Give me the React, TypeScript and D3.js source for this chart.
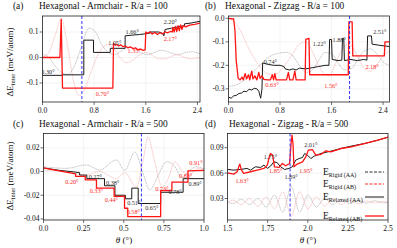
import React from "react";
import * as d3 from "d3";

type Pt = [number, number];
type Lab = [string, number, number, string];

// ---------- Panel (a): Hexagonal - Armchair - R/a = 100 ----------
const aRigidAA: Pt[] = [[0,0.012],[0.1,0.0],[0.2,-0.035],[0.3,-0.06],[0.4,-0.066],[0.5,-0.03],[0.6,0.04],[0.72,0.115],[0.82,0.1],[0.92,0.05],[1.02,0.02],[1.12,0.012],[1.22,0.025],[1.32,0.04],[1.42,0.035],[1.52,0.02],[1.62,0.012],[1.72,0.018],[1.82,0.028],[1.92,0.025],[2.02,0.015],[2.12,0.012],[2.22,0.02],[2.32,0.022],[2.44,0.015]];
const aRigidAB: Pt[] = [[0,0.0],[0.1,0.02],[0.2,0.09],[0.29,0.15],[0.38,0.06],[0.47,-0.08],[0.57,-0.15],[0.66,-0.12],[0.76,-0.05],[0.88,0.02],[1.0,0.05],[1.1,0.035],[1.2,0.0],[1.3,-0.02],[1.4,-0.01],[1.5,0.01],[1.6,0.02],[1.7,0.01],[1.8,-0.005],[1.9,-0.005],[2.0,0.005],[2.1,0.01],[2.2,0.0],[2.3,-0.005],[2.44,0.0]];
const aRelaxedAA: Pt[] = [[0,-0.07],[0.3,-0.07],[0.3,-0.068],[0.64,-0.068],[0.64,0.068],[0.79,0.068],[0.79,0.02],[1.05,0.02],[1.05,0.036],[1.28,0.036],[1.28,0.085],[1.4,0.088],[1.5,0.09],[1.6,0.093],[1.66,0.095],[1.66,0.1],[1.8,0.1],[1.86,0.095],[1.88,0.085],[1.9,0.11],[2.0,0.115],[2.1,0.12],[2.2,0.125],[2.2,0.132],[2.3,0.135],[2.44,0.142]];
const aRelaxedAB: Pt[] = [[0,0],[0.27,0],[0.29,0.15],[0.31,-0.12],[0.6,-0.12],[0.8,-0.12],[1.09,-0.12],[1.1,0.055],[1.13,0.048],[1.15,0.052],[1.18,0.045],[1.21,0.05],[1.25,0.042],[1.28,0.046],[1.32,0.038],[1.36,0.042],[1.4,0.035],[1.44,0.038],[1.48,0.03],[1.52,0.033],[1.56,0.028],[1.59,0.03],[1.6,0.1],[1.63,0.095],[1.66,0.1],[1.7,0.092],[1.74,0.098],[1.78,0.09],[1.82,0.097],[1.86,0.092],[1.9,0.1],[1.94,0.097],[1.98,0.102],[2.01,0.1],[2.02,0.118],[2.04,0.1],[2.06,0.122],[2.08,0.102],[2.1,0.125],[2.12,0.105],[2.14,0.128],[2.16,0.11],[2.18,0.125],[2.22,0.12],[2.26,0.125],[2.3,0.128],[2.36,0.13],[2.44,0.135]];
const aLabels: Lab[] = [["0.30°",0.085,-0.053,"AA"],["0.70°",0.93,-0.143,"AB"],["1.05°",1.12,0.057,"AA"],["1.35°",1.42,0.029,"AB"],["1.66°",1.39,0.1,"AA"],["2.17°",1.98,0.076,"AB"],["2.20°",1.98,0.143,"AA"]];
const aXTicks = [0, 0.8, 1.6, 2.4];
const aXTickLabels = ["0.0", "0.8", "1.6", "2.4"];
const aYTicks = [-0.1, 0, 0.1];
const aYTickLabels = ["-0.1", "0.0", "0.1"];

// ---------- Panel (b): Hexagonal - Zigzag - R/a = 100 ----------
const bRigidAA: Pt[] = [[0,-0.29],[0.15,-0.28],[0.3,-0.25],[0.45,-0.21],[0.6,-0.17],[0.75,-0.15],[0.9,-0.145],[1.0,-0.16],[1.1,-0.2],[1.2,-0.23],[1.3,-0.22],[1.4,-0.18],[1.5,-0.145],[1.6,-0.15],[1.7,-0.19],[1.8,-0.22],[1.9,-0.215],[2.0,-0.18],[2.1,-0.14],[2.2,-0.13],[2.3,-0.15],[2.4,-0.185],[2.5,-0.2]];
const bRigidAB: Pt[] = [[0,0],[0.1,-0.02],[0.2,-0.06],[0.3,-0.12],[0.4,-0.17],[0.5,-0.21],[0.6,-0.235],[0.7,-0.24],[0.8,-0.225],[0.9,-0.19],[1.0,-0.15],[1.1,-0.11],[1.2,-0.1],[1.3,-0.14],[1.4,-0.2],[1.5,-0.24],[1.57,-0.245],[1.65,-0.2],[1.75,-0.14],[1.85,-0.11],[1.92,-0.12],[2.0,-0.16],[2.1,-0.21],[2.2,-0.225],[2.3,-0.2],[2.4,-0.16],[2.5,-0.14]];
const bRelaxedAA: Pt[] = [[0,-0.335],[0.04,-0.34],[0.08,-0.33],[0.12,-0.328],[0.16,-0.32],[0.2,-0.318],[0.24,-0.31],[0.28,-0.312],[0.32,-0.302],[0.36,-0.305],[0.4,-0.298],[0.44,-0.3],[0.47,-0.31],[0.5,-0.34],[0.52,-0.3],[0.53,-0.19],[0.6,-0.195],[0.7,-0.2],[0.8,-0.2],[0.86,-0.205],[0.88,-0.215],[0.95,-0.22],[1.0,-0.215],[1.05,-0.22],[1.1,-0.212],[1.2,-0.215],[1.3,-0.21],[1.4,-0.205],[1.5,-0.2],[1.56,-0.2],[1.57,-0.09],[1.6,-0.09],[1.61,-0.175],[1.7,-0.18],[1.76,-0.178],[1.77,-0.085],[1.79,-0.085],[1.8,-0.18],[1.9,-0.175],[2.0,-0.18],[2.1,-0.175],[2.15,-0.178],[2.16,-0.075],[2.22,-0.075],[2.23,-0.11],[2.35,-0.115],[2.5,-0.12]];
const bRelaxedAB: Pt[] = [[0,0],[0.08,-0.003],[0.1,-0.05],[0.12,-0.18],[0.15,-0.255],[0.18,-0.262],[0.21,-0.25],[0.23,-0.262],[0.26,-0.235],[0.28,-0.258],[0.31,-0.24],[0.33,-0.262],[0.36,-0.225],[0.38,-0.258],[0.41,-0.245],[0.44,-0.262],[0.47,-0.23],[0.49,-0.255],[0.52,-0.245],[0.55,-0.26],[0.6,-0.262],[0.65,-0.262],[0.68,-0.24],[0.7,-0.262],[0.72,-0.235],[0.74,-0.262],[0.8,-0.262],[0.9,-0.262],[0.93,-0.23],[0.95,-0.262],[1.0,-0.262],[1.03,-0.225],[1.05,-0.262],[1.1,-0.262],[1.19,-0.262],[1.2,-0.09],[1.25,-0.085],[1.26,-0.24],[1.4,-0.24],[1.6,-0.24],[1.86,-0.24],[1.87,-0.015],[1.92,-0.015],[1.93,-0.16],[2.1,-0.16],[2.3,-0.16],[2.42,-0.16],[2.43,-0.1],[2.5,-0.1]];
const bLabels: Lab[] = [["0.74°",0.65,-0.182,"AA"],["0.63°",0.675,-0.281,"AB"],["1.22°",1.41,-0.106,"AA"],["1.88°",1.72,-0.089,"AA"],["1.56°",1.59,-0.284,"AB"],["2.18°",2.23,-0.203,"AB"],["2.51°",2.35,-0.057,"AA"]];
const bXTicks = [0, 0.8, 1.6, 2.4];
const bXTickLabels = ["0.0", "0.8", "1.6", "2.4"];
const bYTicks = [0, -0.1, -0.2, -0.3];
const bYTickLabels = ["0.0", "-0.1", "-0.2", "-0.3"];

// ---------- Panel (c): Hexagonal - Armchair - R/a = 500 ----------
const cRigidAA: Pt[] = [[0,0.004],[0.14,0.0027],[0.267,0.0055],[0.35,0.0013],[0.454,0.0097],[0.506,0.001],[0.569,0.0165],[0.621,-0.002],[0.663,-0.0156],[0.715,-0.003],[0.767,0.0083],[0.819,0.004],[0.86,-0.005],[0.9125,0.0013],[0.954,0.004],[1.0,0.002]];
const cRigidAB: Pt[] = [[0,0.0013],[0.142,0],[0.267,-0.003],[0.35,0],[0.454,-0.006],[0.506,-0.001],[0.579,-0.013],[0.621,0.0097],[0.652,0.029],[0.69,0.0097],[0.74,-0.013],[0.777,-0.006],[0.819,0.0083],[0.86,0.001],[0.9125,-0.003],[0.954,0.0027],[1.0,0.002]];
const cRelaxedAA: Pt[] = [[0,0.003],[0.1,0.001],[0.2,-0.0005],[0.225,-0.001],[0.225,-0.003],[0.27,-0.003],[0.27,-0.006],[0.38,-0.006],[0.38,-0.012],[0.445,-0.012],[0.445,-0.02],[0.51,-0.02],[0.51,-0.023],[0.55,-0.023],[0.55,-0.014],[0.59,-0.014],[0.59,-0.027],[0.73,-0.027],[0.73,-0.0175],[0.87,-0.0175],[0.87,-0.006],[1.0,-0.006]];
const cRelaxedAB: Pt[] = [[0,0.003],[0.08,0.001],[0.14,-0.0005],[0.2,-0.002],[0.2,-0.004],[0.26,-0.004],[0.26,-0.007],[0.33,-0.007],[0.33,-0.014],[0.44,-0.014],[0.44,-0.021],[0.505,-0.021],[0.505,-0.031],[0.525,-0.031],[0.525,-0.038],[0.73,-0.038],[0.73,-0.016],[0.8,-0.016],[0.8,-0.009],[0.9,-0.009],[0.9,0.0005],[1.0,0.001]];
const cLabels: Lab[] = [["0.20°",0.177,-0.008,"AB"],["0.27°",0.323,-0.0038,"AA"],["0.33°",0.329,-0.0162,"AB"],["0.38°",0.431,-0.0094,"AA"],["0.44°",0.423,-0.0235,"AB"],["0.51°",0.5625,-0.026,"AA"],["0.58°",0.56,-0.034,"AB"],["0.65°",0.675,-0.0305,"AA"],["0.73°",0.7375,-0.0142,"AB"],["0.78°",0.82,-0.017,"AA"],["0.83°",0.886,-0.0036,"AB"],["0.89°",0.945,-0.0098,"AA"],["0.91°",0.95,0.0074,"AB"]];
const cXTicks = [0, 0.25, 0.5, 0.75, 1.0];
const cXTickLabels = ["0.0", "0.25", "0.5", "0.75", "1.0"];
const cYTicks = [0.02, 0, -0.02, -0.04];
const cYTickLabels = ["0.02", "0.0", "-0.02", "-0.04"];

// ---------- Panel (d): Hexagonal - Zigzag - R/a = 500 ----------
const dRigidAA: Pt[] = [[1.5,0.026],[1.533,0.024],[1.585,0.029],[1.637,0.023],[1.689,0.03],[1.741,0.02],[1.793,0.034],[1.845,0.014],[1.897,0.044],[1.949,0.014],[2.001,0.034],[2.053,0.02],[2.105,0.03],[2.157,0.023],[2.209,0.029],[2.261,0.024],[2.313,0.028],[2.365,0.0245],[2.417,0.0275],[2.469,0.025],[2.5,0.026]];
const dRigidAB: Pt[] = [[1.5,0.025],[1.533,0.028],[1.585,0.023],[1.637,0.03],[1.689,0.021],[1.741,0.032],[1.793,0.018],[1.845,0.038],[1.897,0.009],[1.949,0.038],[2.001,0.018],[2.053,0.032],[2.105,0.021],[2.157,0.03],[2.209,0.023],[2.261,0.028],[2.313,0.024],[2.365,0.027],[2.417,0.025],[2.469,0.0265],[2.5,0.025]];
const dRelaxedAA: Pt[] = [[1.5,0.0643],[1.539,0.0635],[1.58,0.0643],[1.622,0.0655],[1.643,0.0635],[1.674,0.0674],[1.706,0.0667],[1.727,0.0694],[1.748,0.0655],[1.768,0.0682],[1.789,0.0733],[1.81,0.0722],[1.831,0.0674],[1.856,0.0643],[1.883,0.0655],[1.904,0.0674],[1.925,0.0753],[1.946,0.0772],[1.967,0.0784],[1.981,0.0831],[1.998,0.0812],[2.019,0.0772],[2.04,0.08],[2.082,0.0831],[2.144,0.0859],[2.207,0.089],[2.27,0.0918],[2.353,0.0949],[2.437,0.0988],[2.52,0.1035]];
const dRelaxedAB: Pt[] = [[1.5,0.0604],[1.539,0.0588],[1.56,0.0616],[1.57,0.0674],[1.577,0.0706],[1.587,0.0635],[1.601,0.0596],[1.643,0.0616],[1.685,0.0635],[1.727,0.0655],[1.748,0.0694],[1.758,0.0772],[1.768,0.0831],[1.781,0.0812],[1.793,0.0674],[1.821,0.0667],[1.842,0.0714],[1.862,0.0686],[1.887,0.0714],[1.896,0.0949],[1.902,0.1047],[1.908,0.0949],[1.914,0.0674],[1.935,0.0706],[1.967,0.0733],[1.988,0.0792],[2.004,0.0871],[2.029,0.0878],[2.05,0.0812],[2.082,0.082],[2.113,0.0863],[2.144,0.0851],[2.207,0.089],[2.27,0.091],[2.353,0.0949],[2.437,0.0988],[2.52,0.1035]];
const dLabels: Lab[] = [["1.75°",1.768,0.08,"AA"],["2.01°",2.019,0.0941,"AA"],["1.89°",1.896,0.0565,"AA"],["1.63°",1.591,0.051,"AB"],["1.85°",1.8,0.0627,"AB"],["1.95°",1.988,0.0627,"AB"]];
const dXTicks = [1.5, 1.75, 2.0, 2.25, 2.5];
const dXTickLabels = ["1.5", "1.75", "2.0", "2.25", "2.5"];
const dYTicks = [0.03, 0.06, 0.09];
const dYTickLabels = ["0.03", "0.06", "0.09"];

// Angles of the blue dashed markers
const blueMarks = [0.61, 1.88, 0.61, 1.89];
const panelTags = ["(a)", "(b)", "(c)", "(d)"];
const panelTitles = [
  "Hexagonal - Armchair - R/a = 100",
  "Hexagonal - Zigzag - R/a = 100",
  "Hexagonal - Armchair - R/a = 500",
  "Hexagonal - Zigzag - R/a = 500",
];
const legendSubs = ["Rigid (AA)", "Rigid (AB)", "Relaxed (AA)", "Relaxed (AB)"];

const FONT = "Liberation Serif, Times New Roman, serif";
const C_AA = "#1a1a1a";
const C_AB = "#ff1414";
const C_RAA = "#9a9a9a";
const C_RAB = "#f29a9a";
const C_BLUE = "#3535ff";

interface Cfg {
  id: string;
  tag: string;
  title: string;
  box: [number, number, number, number];
  xDomain: [number, number];
  yDomain: [number, number];
  xTicks: number[];
  xTickLabels: string[];
  yTicks: number[];
  yTickLabels: string[];
  blue: number;
  rigidAA: Pt[];
  rigidAB: Pt[];
  relaxedAA: Pt[];
  relaxedAB: Pt[];
  labels: Lab[];
  tagX: number;
  titleX: number;
}

function Panel({ c }: { c: Cfg }) {
  const [l, r, t, b] = c.box;
  const x = d3.scaleLinear().domain(c.xDomain).range([l, r]);
  const y = d3.scaleLinear().domain(c.yDomain).range([b, t]);
  const smooth = d3.line<Pt>().x((d) => x(d[0])).y((d) => y(d[1])).curve(d3.curveMonotoneX);
  const lin = d3.line<Pt>().x((d) => x(d[0])).y((d) => y(d[1]));
  const clip = `clip-${c.id}`;
  return (
    <g>
      <defs>
        <clipPath id={clip}>
          <rect x={l} y={t} width={r - l} height={b - t} />
        </clipPath>
      </defs>
      <rect x={l} y={t} width={r - l} height={b - t} fill="#fff" />
      {c.xTicks.map((v, i) => (
        <line key={"gx" + i} x1={x(v)} x2={x(v)} y1={t} y2={b} stroke="#ededed" strokeWidth={0.6} />
      ))}
      {c.yTicks.map((v, i) => (
        <line key={"gy" + i} x1={l} x2={r} y1={y(v)} y2={y(v)} stroke="#ededed" strokeWidth={0.6} />
      ))}
      <g clipPath={`url(#${clip})`}>
        <path d={smooth(c.rigidAA) || ""} fill="none" stroke={C_RAA} strokeWidth={0.6} strokeDasharray="1.2,0.6" />
        <path d={smooth(c.rigidAB) || ""} fill="none" stroke={C_RAB} strokeWidth={0.6} strokeDasharray="1.2,0.6" />
        <path d={lin(c.relaxedAA) || ""} fill="none" stroke={C_AA} strokeWidth={1.0} strokeLinejoin="round" />
        <path d={lin(c.relaxedAB) || ""} fill="none" stroke={C_AB} strokeWidth={1.3} strokeLinejoin="round" />
        <line x1={x(c.blue)} x2={x(c.blue)} y1={t} y2={b} stroke={C_BLUE} strokeWidth={1} strokeDasharray="3,2" />
        {c.labels.map((lb, i) => (
          <text key={"lb" + i} x={x(lb[1])} y={y(lb[2])} fontSize={6.2} textAnchor="middle" dominantBaseline="central"
            fill={lb[3] === "AB" ? "#ff2a2a" : "#333"} fontFamily={FONT}>{lb[0]}</text>
        ))}
      </g>
      <rect x={l} y={t} width={r - l} height={b - t} fill="none" stroke="#222" strokeWidth={0.8} />
      {c.xTicks.map((v, i) => (
        <g key={"tx" + i}>
          <line x1={x(v)} x2={x(v)} y1={b} y2={b + 3} stroke="#333" strokeWidth={0.7} />
          <text x={x(v)} y={b + 11} fontSize={7.6} textAnchor="middle" fontFamily={FONT} fill="#111">{c.xTickLabels[i]}</text>
        </g>
      ))}
      {c.yTicks.map((v, i) => (
        <g key={"ty" + i}>
          <line x1={l - 3} x2={l} y1={y(v)} y2={y(v)} stroke="#333" strokeWidth={0.7} />
          <text x={l - 4} y={y(v)} fontSize={7.6} textAnchor="end" dominantBaseline="central" fontFamily={FONT} fill="#111">{c.yTickLabels[i]}</text>
        </g>
      ))}
      <text x={c.tagX} y={t - 7} fontSize={9.4} fontFamily={FONT} fill="#111">{c.tag}</text>
      <text x={c.titleX} y={t - 7} fontSize={9.4} fontFamily={FONT} fill="#111">{c.title}</text>
    </g>
  );
}

export default function App() {
  const panels: Cfg[] = [
    { id: "a", tag: panelTags[0], title: panelTitles[0], box: [42.5, 200, 16, 102], xDomain: [0, 2.44], yDomain: [-0.1745, 0.1627],
      xTicks: aXTicks, xTickLabels: aXTickLabels, yTicks: aYTicks, yTickLabels: aYTickLabels, blue: blueMarks[0],
      rigidAA: aRigidAA, rigidAB: aRigidAB, relaxedAA: aRelaxedAA, relaxedAB: aRelaxedAB, labels: aLabels, tagX: 13, titleX: 39 },
    { id: "b", tag: panelTags[1], title: panelTitles[1], box: [228.5, 389.5, 16, 102], xDomain: [0, 2.5], yDomain: [-0.356, 0.0098],
      xTicks: bXTicks, xTickLabels: bXTickLabels, yTicks: bYTicks, yTickLabels: bYTickLabels, blue: blueMarks[1],
      rigidAA: bRigidAA, rigidAB: bRigidAB, relaxedAA: bRelaxedAA, relaxedAB: bRelaxedAB, labels: bLabels, tagX: 205, titleX: 225 },
    { id: "c", tag: panelTags[2], title: panelTitles[2], box: [43.5, 204, 133.5, 220], xDomain: [0, 1.0], yDomain: [-0.0409, 0.0321],
      xTicks: cXTicks, xTickLabels: cXTickLabels, yTicks: cYTicks, yTickLabels: cYTickLabels, blue: blueMarks[2],
      rigidAA: cRigidAA, rigidAB: cRigidAB, relaxedAA: cRelaxedAA, relaxedAB: cRelaxedAB, labels: cLabels, tagX: 13, titleX: 39 },
    { id: "d", tag: panelTags[3], title: panelTitles[3], box: [227.5, 388, 133.5, 220], xDomain: [1.5, 2.5], yDomain: [0.0047, 0.1067],
      xTicks: dXTicks, xTickLabels: dXTickLabels, yTicks: dYTicks, yTickLabels: dYTickLabels, blue: blueMarks[3],
      rigidAA: dRigidAA, rigidAB: dRigidAB, relaxedAA: dRelaxedAA, relaxedAB: dRelaxedAB, labels: dLabels, tagX: 205, titleX: 229 },
  ];

  const legendStyles = [
    { stroke: C_AA, dash: "3,1.5", w: 0.9 },
    { stroke: C_AB, dash: "3,1.5", w: 0.9 },
    { stroke: C_AA, dash: undefined, w: 1.0 },
    { stroke: C_AB, dash: undefined, w: 1.3 },
  ];
  const legendY = [172, 184, 197, 216];

  const yLabel = (cy: number) => (
    <text transform={`translate(12.5, ${cy}) rotate(-90)`} textAnchor="middle" fontSize={9} fontFamily={FONT} fill="#111">
      ΔE<tspan fontSize={6.3} dy={2}>inter</tspan><tspan dy={-2}> (meV/atom)</tspan>
    </text>
  );

  return (
    <svg width={397} height={248} viewBox="0 0 397 248" style={{ position: "absolute", left: 0, top: 0, background: "#fff" }}>
      <rect x={0} y={0} width={397} height={248} fill="#fff" />
      {panels.map((p) => (
        <Panel key={p.id} c={p} />
      ))}
      {yLabel(62)}
      {yLabel(176)}
      <text x={124} y={243} textAnchor="middle" fontSize={9} fontFamily={FONT} fill="#111">
        <tspan fontStyle="italic">θ</tspan> (°)
      </text>
      <text x={308} y={243} textAnchor="middle" fontSize={9} fontFamily={FONT} fill="#111">
        <tspan fontStyle="italic">θ</tspan> (°)
      </text>
      {legendSubs.map((s, i) => (
        <g key={"lg" + i}>
          <text x={323} y={legendY[i] + 3} fontSize={9.5} fontFamily={FONT} fill="#111">
            E<tspan fontSize={6} dy={2}>{s}</tspan>
          </text>
          <line x1={365} x2={384} y1={legendY[i]} y2={legendY[i]} stroke={legendStyles[i].stroke}
            strokeWidth={legendStyles[i].w} strokeDasharray={legendStyles[i].dash} />
        </g>
      ))}
    </svg>
  );
}
